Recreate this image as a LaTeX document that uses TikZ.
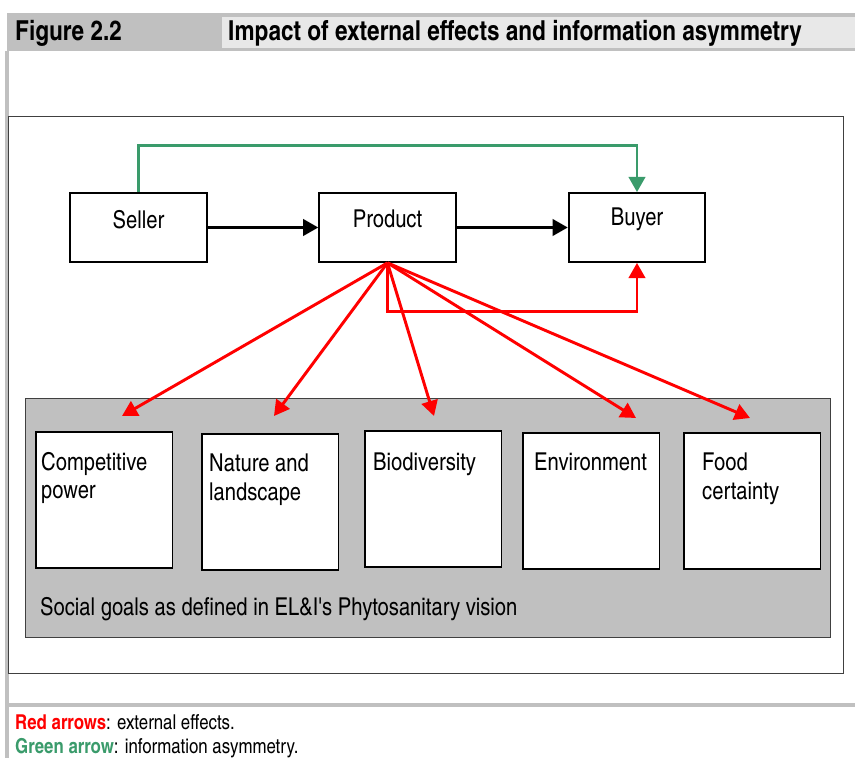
\documentclass[tikz,border=0pt]{standalone}
\usepackage{fontspec}
\setmainfont{TeX Gyre Heros Cn}
\usetikzlibrary{calc,arrows.meta,positioning}

\definecolor{frameGray}{HTML}{C0C0C0}
\definecolor{titleGray}{HTML}{E8E8E8}
\definecolor{lineGray}{HTML}{404040}
\definecolor{infoGreen}{HTML}{3A9B6B}
\definecolor{effRed}{HTML}{FF0000}

\tikzset{
  txt/.style={font=\fontsize{21}{24}\selectfont},
  head/.style={font=\bfseries\fontsize{23.5}{27}\selectfont, anchor=west, inner sep=0pt},
  note/.style={font=\fontsize{17.5}{20}\selectfont, anchor=west, inner sep=0pt},
  box/.style={draw=black, line width=1.5pt, fill=white, inner sep=0pt,
              minimum width=4.1cm, minimum height=2.07cm},
  goal/.style={draw=black, line width=1.5pt, fill=white, inner sep=0pt, anchor=north west,
               minimum width=4.1cm, minimum height=4.08cm},
  goaltext/.style={txt, anchor=north west, align=left, inner sep=0pt},
  flow/.style={line width=2.5pt, -{Triangle[length=13pt,width=14pt]}},
  effect/.style={flow, effRed},
  info/.style={flow, infoGreen}
}

\begin{document}
\begin{tikzpicture}[x=0.03cm,y=-0.03cm]

\useasboundingbox (0,0) rectangle (855,758);

% ---- Title bar ----
\fill[frameGray] (7,13) rectangle (855,51);
\fill[titleGray] (222,17) rectangle (855,48);
\node[head] (figNo)    at (15,33)  {Figure 2.2};
\node[head] (figTitle) at (228,33) {Impact of external effects and information asymmetry};

% ---- Frame ----
\fill[frameGray] (5,51) rectangle (9,758);
\fill[frameGray] (5,703) rectangle (855,707);
\draw[lineGray, line width=0.8pt] (8,116) rectangle (843,673);

% ---- Market chain ----
\node[box, label={[txt,yshift=7pt]center:Seller}]  (seller)  at (138.5,227.5) {};
\node[box, label={[txt,yshift=7pt]center:Product}] (product) at (387.5,227.5) {};
\node[box, label={[txt,yshift=7pt]center:Buyer}]   (buyer)   at (637,227.5)   {};

\draw[flow] (seller) -- (product);
\draw[flow] (product) -- (buyer);

% green: information asymmetry
\draw[info] (seller.north) -- ++(0,-47) -| (buyer.north);

% ---- Social goals panel ----
\draw[lineGray, fill=frameGray, line width=0.8pt] (25,398) rectangle (830,637);
\node[txt, anchor=west, inner sep=0pt] (panelText) at (40,609)
  {Social goals as defined in EL\&I\textquotesingle s Phytosanitary vision};

\node[goal] (goalComp)   at (35,431)  {};
\node[goal] (goalNature) at (201,433) {};
\node[goal] (goalBio)    at (364,430) {};
\node[goal] (goalEnv)    at (522,432) {};
\node[goal] (goalFood)   at (683,432) {};

\node[goaltext] at ($(goalComp.north west)+(6,21)$)   {Competitive\\power};
\node[goaltext] at ($(goalNature.north west)+(8,21)$) {Nature and\\landscape};
\node[goaltext] at ($(goalBio.north west)+(9,23)$)    {Biodiversity};
\node[goaltext] at ($(goalEnv.north west)+(12,21)$)   {Environment};
\node[goaltext] at ($(goalFood.north west)+(19,21)$)  {Food\\certainty};

% red: external effects
\coordinate (tipComp)   at (122,416);
\coordinate (tipNature) at (274,416);
\coordinate (tipBio)    at (434,416);
\coordinate (tipEnv)    at (636,418);
\coordinate (tipFood)   at (750,418);

\foreach \t in {tipComp,tipNature,tipBio,tipEnv,tipFood}
  \draw[effect] (product.south) -- (\t);
\draw[effect] (product.south) -- ++(0,49) -| (buyer.south);

% ---- Notes ----
\node[note] (noteRed) at (15,722)
  {\textcolor{effRed}{\bfseries Red arrows}: external effects.};
\node[note] (noteGreen) at (15,748)
  {\textcolor{infoGreen}{\bfseries Green arrow}: information asymmetry.};

\end{tikzpicture}
\end{document}
